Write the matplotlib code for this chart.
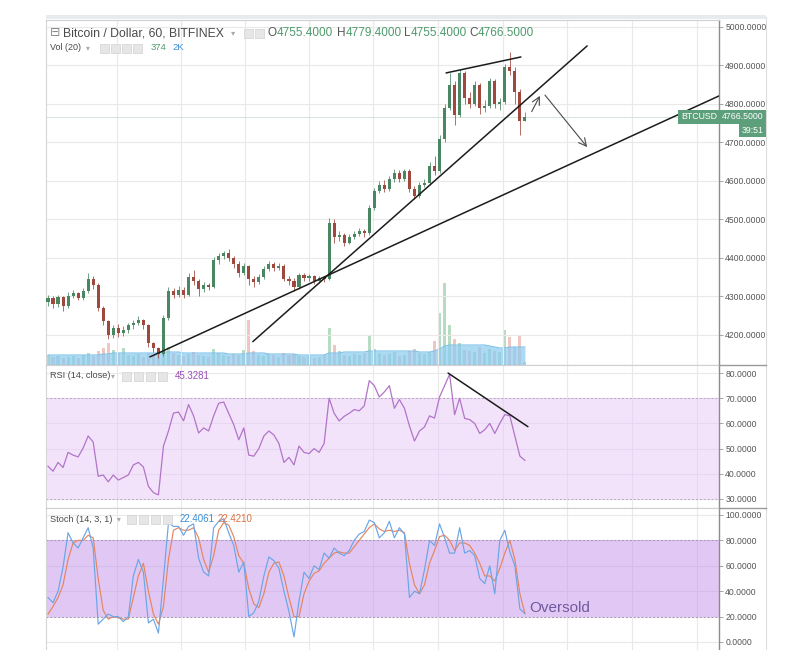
import numpy as np
import matplotlib
matplotlib.use("Agg")
import matplotlib.pyplot as plt
from matplotlib.patches import Rectangle
from matplotlib.lines import Line2D
from matplotlib.transforms import blended_transform_factory
from matplotlib.ticker import FuncFormatter

plt.rcParams['font.family'] = ['Liberation Sans', 'DejaVu Sans']

# ---------------- data ----------------
opens = [4285, 4295, 4280, 4298, 4275, 4300, 4308, 4296, 4315, 4345,
         4330, 4270, 4235, 4200, 4218, 4205, 4212, 4225, 4230, 4238,
         4225, 4178, 4165, 4150, 4245, 4315, 4305, 4318, 4305, 4350,
         4340, 4320, 4330, 4325, 4395, 4405, 4412, 4400, 4385, 4360,
         4378, 4345, 4338, 4350, 4372, 4385, 4375, 4380, 4345, 4340,
         4325, 4355, 4348, 4352, 4340, 4348, 4345, 4490, 4455, 4460,
         4440, 4455, 4462, 4470, 4465, 4530, 4575, 4590, 4580, 4605,
         4620, 4605, 4625, 4580, 4560, 4590, 4595, 4640, 4625, 4710,
         4790, 4850, 4770, 4880, 4815, 4800, 4850, 4790, 4795, 4860,
         4800, 4805, 4895, 4885, 4830, 4755.4]
highs = [4305, 4302, 4305, 4300, 4312, 4318, 4312, 4322, 4360, 4352,
         4335, 4275, 4240, 4225, 4228, 4222, 4232, 4238, 4248, 4242,
         4228, 4182, 4170, 4252, 4325, 4322, 4328, 4325, 4360, 4368,
         4345, 4338, 4335, 4402, 4412, 4418, 4422, 4405, 4392, 4388,
         4382, 4352, 4358, 4380, 4392, 4390, 4388, 4385, 4352, 4348,
         4362, 4360, 4358, 4356, 4354, 4352, 4505, 4500, 4470, 4465,
         4462, 4470, 4478, 4475, 4538, 4582, 4600, 4602, 4612, 4630,
         4628, 4632, 4630, 4588, 4598, 4605, 4648, 4665, 4720, 4800,
         4880, 4860, 4890, 4885, 4830, 4860, 4855, 4810, 4868, 4865,
         4815, 4905, 4935, 4895, 4840, 4779.4]
lows = [4275, 4270, 4272, 4262, 4270, 4295, 4290, 4292, 4310, 4320,
        4262, 4225, 4190, 4192, 4196, 4198, 4205, 4215, 4225, 4215,
        4170, 4155, 4140, 4145, 4240, 4295, 4298, 4295, 4300, 4330,
        4300, 4312, 4318, 4322, 4385, 4398, 4392, 4375, 4350, 4355,
        4330, 4325, 4332, 4345, 4365, 4365, 4368, 4340, 4330, 4315,
        4320, 4340, 4340, 4332, 4336, 4338, 4342, 4440, 4445, 4430,
        4435, 4450, 4458, 4455, 4460, 4525, 4568, 4570, 4575, 4598,
        4598, 4600, 4570, 4552, 4556, 4585, 4590, 4615, 4620, 4700,
        4785, 4745, 4765, 4800, 4790, 4795, 4775, 4780, 4790, 4790,
        4785, 4800, 4875, 4800, 4720, 4755.4]
closes = [4295, 4280, 4298, 4275, 4300, 4308, 4296, 4315, 4345, 4330,
          4270, 4235, 4200, 4218, 4205, 4212, 4225, 4230, 4238, 4225,
          4178, 4165, 4150, 4245, 4315, 4305, 4318, 4305, 4350, 4340,
          4320, 4330, 4325, 4395, 4405, 4412, 4400, 4385, 4360, 4378,
          4345, 4338, 4350, 4372, 4385, 4375, 4380, 4345, 4340, 4325,
          4355, 4348, 4352, 4340, 4348, 4345, 4490, 4455, 4460, 4440,
          4455, 4462, 4470, 4465, 4530, 4575, 4590, 4580, 4605, 4620,
          4605, 4625, 4580, 4560, 4590, 4595, 4640, 4625, 4710, 4790,
          4850, 4770, 4880, 4815, 4800, 4850, 4790, 4795, 4860, 4800,
          4805, 4895, 4885, 4830, 4755, 4766.5]
volumes = [1100, 880, 990, 770, 880, 990, 770, 1100, 1320, 990,
           1540, 1870, 2420, 1650, 1320, 1870, 1100, 990, 1210, 880,
           1320, 1100, 1540, 2750, 1980, 1320, 1100, 990, 1210, 1430,
           1100, 990, 880, 1760, 1320, 1100, 990, 1210, 1100, 1650,
           4950, 1540, 1100, 990, 1210, 1100, 880, 1320, 1100, 1210,
           990, 880, 990, 770, 880, 1100, 4070, 2200, 1540, 1100,
           990, 1210, 1100, 1320, 3190, 1760, 1320, 1100, 1210, 1430,
           990, 1100, 1540, 1760, 1320, 1210, 1430, 2640, 5720, 9020,
           4400, 2860, 2420, 1650, 1540, 1430, 1980, 1320, 1760, 1540,
           1430, 3850, 3080, 1980, 3300, 374]
vol_ma = [1100, 1100, 1100, 1100, 1100, 1100, 1100, 1100, 1100, 1100,
          1100, 1210, 1210, 1320, 1320, 1320, 1320, 1320, 1320, 1320,
          1320, 1320, 1320, 1430, 1430, 1430, 1430, 1320, 1320, 1320,
          1320, 1320, 1320, 1320, 1320, 1320, 1210, 1210, 1210, 1210,
          1320, 1320, 1320, 1320, 1210, 1210, 1210, 1210, 1210, 1210,
          1100, 1100, 1100, 1100, 1100, 1100, 1320, 1320, 1320, 1430,
          1430, 1430, 1430, 1430, 1540, 1540, 1540, 1540, 1540, 1540,
          1540, 1540, 1540, 1540, 1430, 1430, 1430, 1540, 1760, 2090,
          2200, 2200, 2200, 2200, 2200, 2200, 2200, 2200, 2090, 1980,
          1870, 1870, 1980, 1980, 1980, 1980]
rsi = [43, 41, 44.5, 42.5, 48.5, 47.4, 46.7, 50.2, 55, 52.6,
       39, 39.5, 36.8, 39.5, 37.5, 38.5, 39.5, 43.5, 44.5, 42.7,
       35, 32.5, 31.6, 51, 57, 64.1, 64.5, 61, 67.5, 63,
       56.2, 58.2, 57, 63, 68, 68.5, 64, 59.5, 53.5, 58.2,
       47.4, 47, 50, 55, 57, 55.4, 52, 44.5, 46.5, 43.5,
       51, 48.5, 48, 50, 48.5, 52, 70, 64, 61, 62.8,
       64, 65.5, 65, 67, 77, 75, 70.5, 72.5, 75, 66,
       69.5, 66, 59, 53, 57, 58.6, 63, 62.1, 70.5, 75,
       79.5, 63.5, 70, 62, 61.5, 60, 56, 57.5, 60, 56,
       60, 63.5, 63, 55, 47, 45.3281]
stoch_k = [35, 31, 40, 59, 86, 78, 74, 82, 90, 74,
           14, 18, 22, 20, 20, 16, 20, 52, 65, 55,
           15, 18, 7, 50, 94, 91, 91, 84, 91, 93,
           66, 55, 52, 90, 95, 97, 86, 76, 55, 63,
           20, 23, 32, 52, 67, 64, 58, 40, 24, 4,
           32, 55, 50, 60, 57, 70, 66, 74, 70, 68,
           72, 80, 85, 87, 96, 94, 82, 86, 95, 82,
           90, 85, 35, 40, 38, 57, 80, 76, 93, 82,
           70, 70, 90, 70, 72, 68, 50, 46, 60, 38,
           80, 88, 71, 60, 26, 22.4061]
stoch_d = [22, 28, 35, 45, 65, 78, 80, 80, 84, 82,
           50, 25, 18, 20, 19, 18, 18, 35, 52, 62,
           40, 22, 14, 28, 65, 88, 90, 88, 88, 90,
           82, 65, 55, 68, 88, 94, 92, 83, 68, 62,
           42, 30, 27, 38, 55, 62, 63, 52, 35, 20,
           20, 38, 48, 54, 56, 62, 66, 70, 71, 70,
           70, 75, 80, 85, 90, 93, 89, 87, 88, 87,
           88, 86, 62, 45, 38, 45, 62, 72, 83, 84,
           80, 72, 78, 78, 76, 70, 62, 52, 52, 48,
           58, 70, 80, 65, 38, 22.421]

price_ticks = [4200, 4300, 4400, 4500, 4600, 4700, 4800, 4900, 5000]
rsi_ticks = [30, 40, 50, 60, 70, 80]
stoch_ticks = [0, 20, 40, 60, 80, 100]
last_price = 4766.5
countdown = "39:51"
symbol = "BTCUSD"

# drawings (bar index, value)
trend_long_x, trend_long_y = [20.3, 133.7], [4143, 4821]
trend_steep_x, trend_steep_y = [40.8, 107.4], [4182.7, 4950.7]
wedge_x, wedge_y = [79.3, 94.2], [4880.5, 4922]
arrow_up = [(96.35, 4780), (98.0, 4821)]
arrow_down = [(99.0, 4823), (107.4, 4688)]
rsi_trend_x, rsi_trend_y = [79.7, 95.6], [80.0, 58.7]

# ---------------- layout ----------------
W, H = 800, 650
PX_FIRST, PX_STEP = 48.0, 5.02
GRID_PX = [117, 181, 245, 309, 373, 438, 503, 567, 632, 697]


def bx(px):
    return (px - PX_FIRST) / PX_STEP


def rect(x0, y0, x1, y1):
    return [x0 / W, 1 - y1 / H, (x1 - x0) / W, (y1 - y0) / H]


fig = plt.figure(figsize=(W / 100, H / 100), dpi=100)
fig.patch.set_facecolor('white')

ax_v = fig.add_axes(rect(46, 20, 719, 365), zorder=0)
ax = fig.add_axes(rect(46, 20, 719, 365), sharex=ax_v, zorder=1)
ax_rsi = fig.add_axes(rect(46, 365, 719, 508), sharex=ax_v, zorder=1)
ax_st = fig.add_axes(rect(46, 508, 719, 650), sharex=ax_v, zorder=1)
ax.patch.set_visible(False)

x = np.arange(len(closes))
UP, DOWN = '#4a8661', '#a0483d'
GREEN_LBL = '#5e9f7b'

# volume
ax_v.axis('off')
vcol = ['#b8dcc3' if c >= o else '#efc6c2' for o, c in zip(opens, closes)]
ax_v.bar(x, volumes, width=0.62, color=vcol, lw=0)
ax_v.fill_between(x, 0, vol_ma, color='#8ccbf0', alpha=0.72, lw=0)
ax_v.plot(x, vol_ma, color='#7cc1ea', lw=0.8)
ax_v.set_ylim(0, 37950)
ax_v.set_xlim(bx(46), bx(719))

# candles
for i in range(len(closes)):
    o, h, l, c = opens[i], highs[i], lows[i], closes[i]
    col = UP if c >= o else DOWN
    ax.vlines(x[i], l, h, color=col, lw=0.7, alpha=0.8, zorder=3)
    ax.bar(x[i], max(abs(c - o), 2.0), bottom=min(o, c), width=0.62,
           color=col, lw=0, zorder=3)

ax.axhline(last_price, color='#d6e4db', lw=0.7, zorder=0.8)

lk = dict(color='#1c1c1c', lw=1.1, zorder=5, solid_capstyle='round')
ax.plot(trend_long_x, trend_long_y, **lk)
ax.plot(trend_steep_x, trend_steep_y, **lk)
ax.plot(wedge_x, wedge_y, **lk)
for (s, e) in (arrow_up, arrow_down):
    ax.annotate('', xy=e, xytext=s,
                arrowprops=dict(arrowstyle='->,head_length=0.55,head_width=0.28',
                                color='#4a4a4a', lw=0.8, shrinkA=0, shrinkB=0),
                zorder=5)
ax.set_ylim(4122, 5018)
ax.set_yticks(price_ticks)

# RSI
ax_rsi.axhspan(30, 70, color='#e7c9f9', alpha=0.5, lw=0, zorder=0.6)
for lvl in (30, 70):
    ax_rsi.axhline(lvl, color='#b9a6c6', lw=0.7, ls=(0, (2, 2)), zorder=0.7)
ax_rsi.plot(x, rsi, color='#b274c8', lw=0.9, zorder=3)
ax_rsi.plot(rsi_trend_x, rsi_trend_y, **lk)
ax_rsi.set_ylim(26.4, 83.2)
ax_rsi.set_yticks(rsi_ticks)

# Stochastic
ax_st.axhspan(20, 80, color='#c591eb', alpha=0.5, lw=0, zorder=0.6)
for lvl in (20, 80):
    ax_st.axhline(lvl, color='#a892b4', lw=0.7, ls=(0, (2, 2)), zorder=0.7)
ax_st.plot(x, stoch_d, color='#e5855f', lw=0.85, zorder=3)
ax_st.plot(x, stoch_k, color='#6aa6e6', lw=0.85, zorder=4)
ax_st.text(bx(529), 21.5, 'Oversold', fontsize=11, color='#6f5a9e',
           va='bottom', ha='left', zorder=6)
ax_st.set_ylim(-6.3, 105.5)
ax_st.set_yticks(stoch_ticks)

fmt = FuncFormatter(lambda v, _: f'{v:.4f}')
for a in (ax, ax_rsi, ax_st):
    a.set_xticks([bx(p) for p in GRID_PX])
    a.grid(True, color='#e9e9e9', lw=0.8)
    a.set_axisbelow(True)
    a.yaxis.tick_right()
    a.yaxis.set_major_formatter(fmt)
    a.tick_params(axis='y', which='both', right=True, left=False,
                  labelright=True, labelleft=False, length=3, width=0.6,
                  color='#999999', labelsize=6.2, labelcolor='#555555', pad=1.5)
    a.tick_params(axis='x', length=0, labelbottom=False)
    a.spines['right'].set_color('#8c8c8c')
    a.spines['right'].set_linewidth(1.0)
    a.spines['left'].set_color('#d5d5d5')
    a.spines['top'].set_color('#d0d0d0')
    a.spines['bottom'].set_color('#9a9a9a')
ax_st.spines['bottom'].set_visible(False)
ax_v.set_xlim(bx(46), bx(719))

# last price labels
tr = blended_transform_factory(ax.transAxes, ax.transData)
box = dict(boxstyle='square,pad=0.3', fc=GREEN_LBL, ec='none')
ax.text((717 - 46) / 673, last_price, symbol, transform=tr, ha='right',
        va='center', fontsize=6.3, color='white', bbox=box, zorder=10,
        clip_on=False)
ax.text((722 - 46) / 673, last_price, f'{last_price:.4f}', transform=tr,
        ha='left', va='center', fontsize=6.3, color='white', bbox=box,
        zorder=10, clip_on=False)
ax.annotate(countdown, xy=((764 - 46) / 673, last_price), xycoords=tr,
            xytext=(0, -9.6), textcoords='offset points', ha='right',
            va='center', fontsize=6.3, color='white', bbox=box, zorder=10,
            annotation_clip=False)

# frame decorations
fig.add_artist(Rectangle((46 / W, 1 - 19 / H), 720 / W, 4 / H,
                         transform=fig.transFigure, fc='#e8ebee', ec='none',
                         zorder=10))
fig.add_artist(Line2D([766 / W, 766 / W], [1 - 17 / H, 0],
                      transform=fig.transFigure, color='#dddddd', lw=0.8,
                      zorder=10))
for yy in (365, 508):
    fig.add_artist(Line2D([719 / W, 766 / W], [1 - yy / H, 1 - yy / H],
                          transform=fig.transFigure, color='#9a9a9a', lw=1.0,
                          zorder=10))


def ftext(px, py, s, **kw):
    fig.text(px / W, 1 - py / H, s, va='center', ha='left', zorder=11, **kw)


def ficons(px, py, n, step=11, size=9):
    for k in range(n):
        fig.add_artist(Rectangle(((px + k * step) / W, 1 - (py + size / 2) / H),
                                 size / W, size / H, transform=fig.transFigure,
                                 fc='#e6e6e6', ec='#d2d2d2', lw=0.5, zorder=10))


# header / legends
ftext(50, 33, '⊟', fontsize=9, color='#8a8a8a', family=['DejaVu Sans'])
ftext(63, 33, 'Bitcoin / Dollar, 60, BITFINEX', fontsize=8.8, color='#4a4a4a')
ftext(231, 33, '▾', fontsize=6, color='#aaaaaa', family=['DejaVu Sans'])
ficons(244, 33, 2)
ohlc = [('O', opens[-1]), ('H', highs[-1]), ('L', lows[-1]), ('C', closes[-1])]
ohlc_px = [267, 337, 404, 469]
ohlc_w = {'O': 9.5, 'H': 8.8, 'L': 6.8, 'C': 8.8}
for (lab, val), px in zip(ohlc, ohlc_px):
    ftext(px, 33, lab, fontsize=8.5, color='#555555')
    ftext(px + ohlc_w[lab], 33, f'{val:.4f}', fontsize=8.5, color='#4e9a6c')

ftext(50, 48, 'Vol (20)', fontsize=6.5, color='#4a4a4a')
ftext(86, 48, '▾', fontsize=5.5, color='#aaaaaa', family=['DejaVu Sans'])
ficons(100, 48, 4)
ftext(151, 48, f'{volumes[-1]}', fontsize=6.8, color='#4e9a6c')
ftext(172, 48, f'{vol_ma[-1] / 1000:.0f}K', fontsize=6.8, color='#3b8fd6')

ftext(50, 376, 'RSI (14, close)', fontsize=6.6, color='#4a4a4a')
ftext(111, 376, '▾', fontsize=5.5, color='#aaaaaa', family=['DejaVu Sans'])
ficons(122, 376, 4, step=12, size=9)
ftext(175, 376, f'{rsi[-1]:.4f}', fontsize=7.0, color='#9a4db3')

ftext(50, 519, 'Stoch (14, 3, 1)', fontsize=6.6, color='#4a4a4a')
ftext(117, 519, '▾', fontsize=5.5, color='#aaaaaa', family=['DejaVu Sans'])
ficons(127, 519, 4, step=12, size=9)
ftext(180, 519, f'{stoch_k[-1]:.4f}', fontsize=7.0, color='#3b8fd6')
ftext(218, 519, f'{stoch_d[-1]:.4f}', fontsize=7.0, color='#e0703f')

fig.savefig('out.png', dpi=100, facecolor='white')
